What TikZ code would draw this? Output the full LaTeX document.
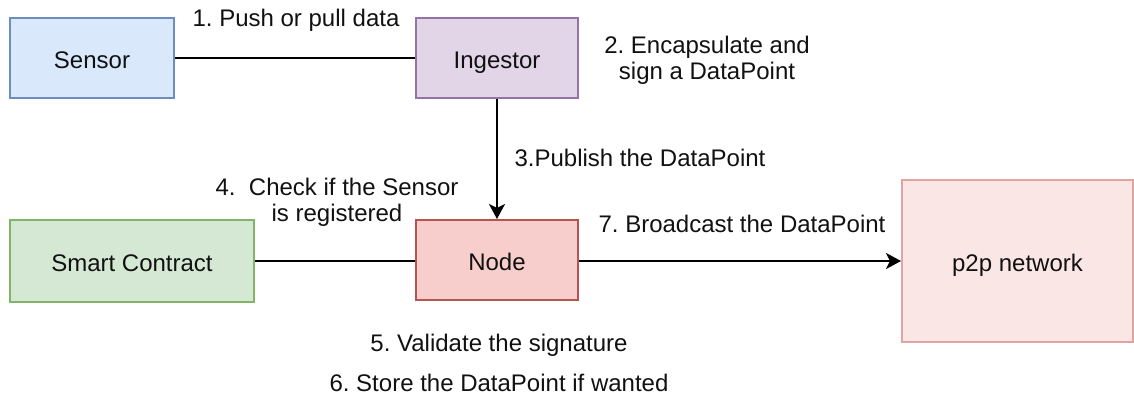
\documentclass[tikz,border=0pt]{standalone}
\usepackage{fontspec}
\setmainfont{Liberation Sans}
\usetikzlibrary{arrows.meta}
\frenchspacing
\definecolor{sensorfill}{HTML}{DAE8FC}\definecolor{sensordraw}{HTML}{6C8EBF}
\definecolor{ingfill}{HTML}{E1D5E7}\definecolor{ingdraw}{HTML}{9673A6}
\definecolor{nodefill}{HTML}{F8CECC}\definecolor{nodedraw}{HTML}{B85450}
\definecolor{scfill}{HTML}{D5E8D4}\definecolor{scdraw}{HTML}{82B366}
\definecolor{p2pfill}{HTML}{FBE6E6}\definecolor{p2pdraw}{HTML}{E2A4A2}
\definecolor{txt}{HTML}{111111}
\begin{document}
\begin{tikzpicture}[x=0.5pt,y=-0.5pt,
  every node/.style={font=\fontsize{12}{14.4}\selectfont, text=txt},
  box/.style={draw, line width=1pt, rectangle, inner sep=0pt, text height=10pt, text depth=0pt},
  conn/.style={line width=1pt, draw=black},
  arr/.style={conn, -{Stealth[length=7.5pt,width=8pt,inset=2pt]}},
  lbl/.style={align=center, inner sep=0pt}]
\useasboundingbox (0,0) rectangle (1134,396);
\node[box, fill=sensorfill, draw=sensordraw, minimum width=82pt, minimum height=40pt] (sensor) at (92,58) {Sensor};
\node[box, fill=ingfill, draw=ingdraw, minimum width=81pt, minimum height=40pt] (ing) at (497,58) {Ingestor};
\node[box, fill=nodefill, draw=nodedraw, minimum width=81pt, minimum height=40pt] (nd) at (497,260) {Node};
\node[box, fill=scfill, draw=scdraw, minimum width=122pt, minimum height=41pt] (sc) at (132,261) {Smart Contract};
\node[box, fill=p2pfill, draw=p2pdraw, minimum width=115.5pt, minimum height=81pt] (p2p) at (1017.5,261) {p2p network};
\draw[conn] (sensor) -- (ing);
\draw[arr] (ing) -- (nd);
\draw[conn] (sc.east) -- (sc.east -| nd.west);
\draw[arr] (nd.east |- p2p.west) -- (p2p.west);
\node[lbl] (l1) at (296,20) {1. Push or pull data};
\node[lbl] (l2) at (707,60) {2. Encapsulate and\\[-1.2pt]sign a DataPoint};
\node[lbl] (l3) at (640,158) {3.Publish the DataPoint};
\node[lbl] (l4) at (337,202) {4.\ \ Check if the Sensor\\[-1.2pt]is registered};
\node[lbl] (l7) at (742,224) {7. Broadcast the DataPoint};
\node[lbl] (l5) at (499,345) {5. Validate the signature};
\node[lbl] (l6) at (499,383) {6. Store the DataPoint if wanted};
\end{tikzpicture}
\end{document}
